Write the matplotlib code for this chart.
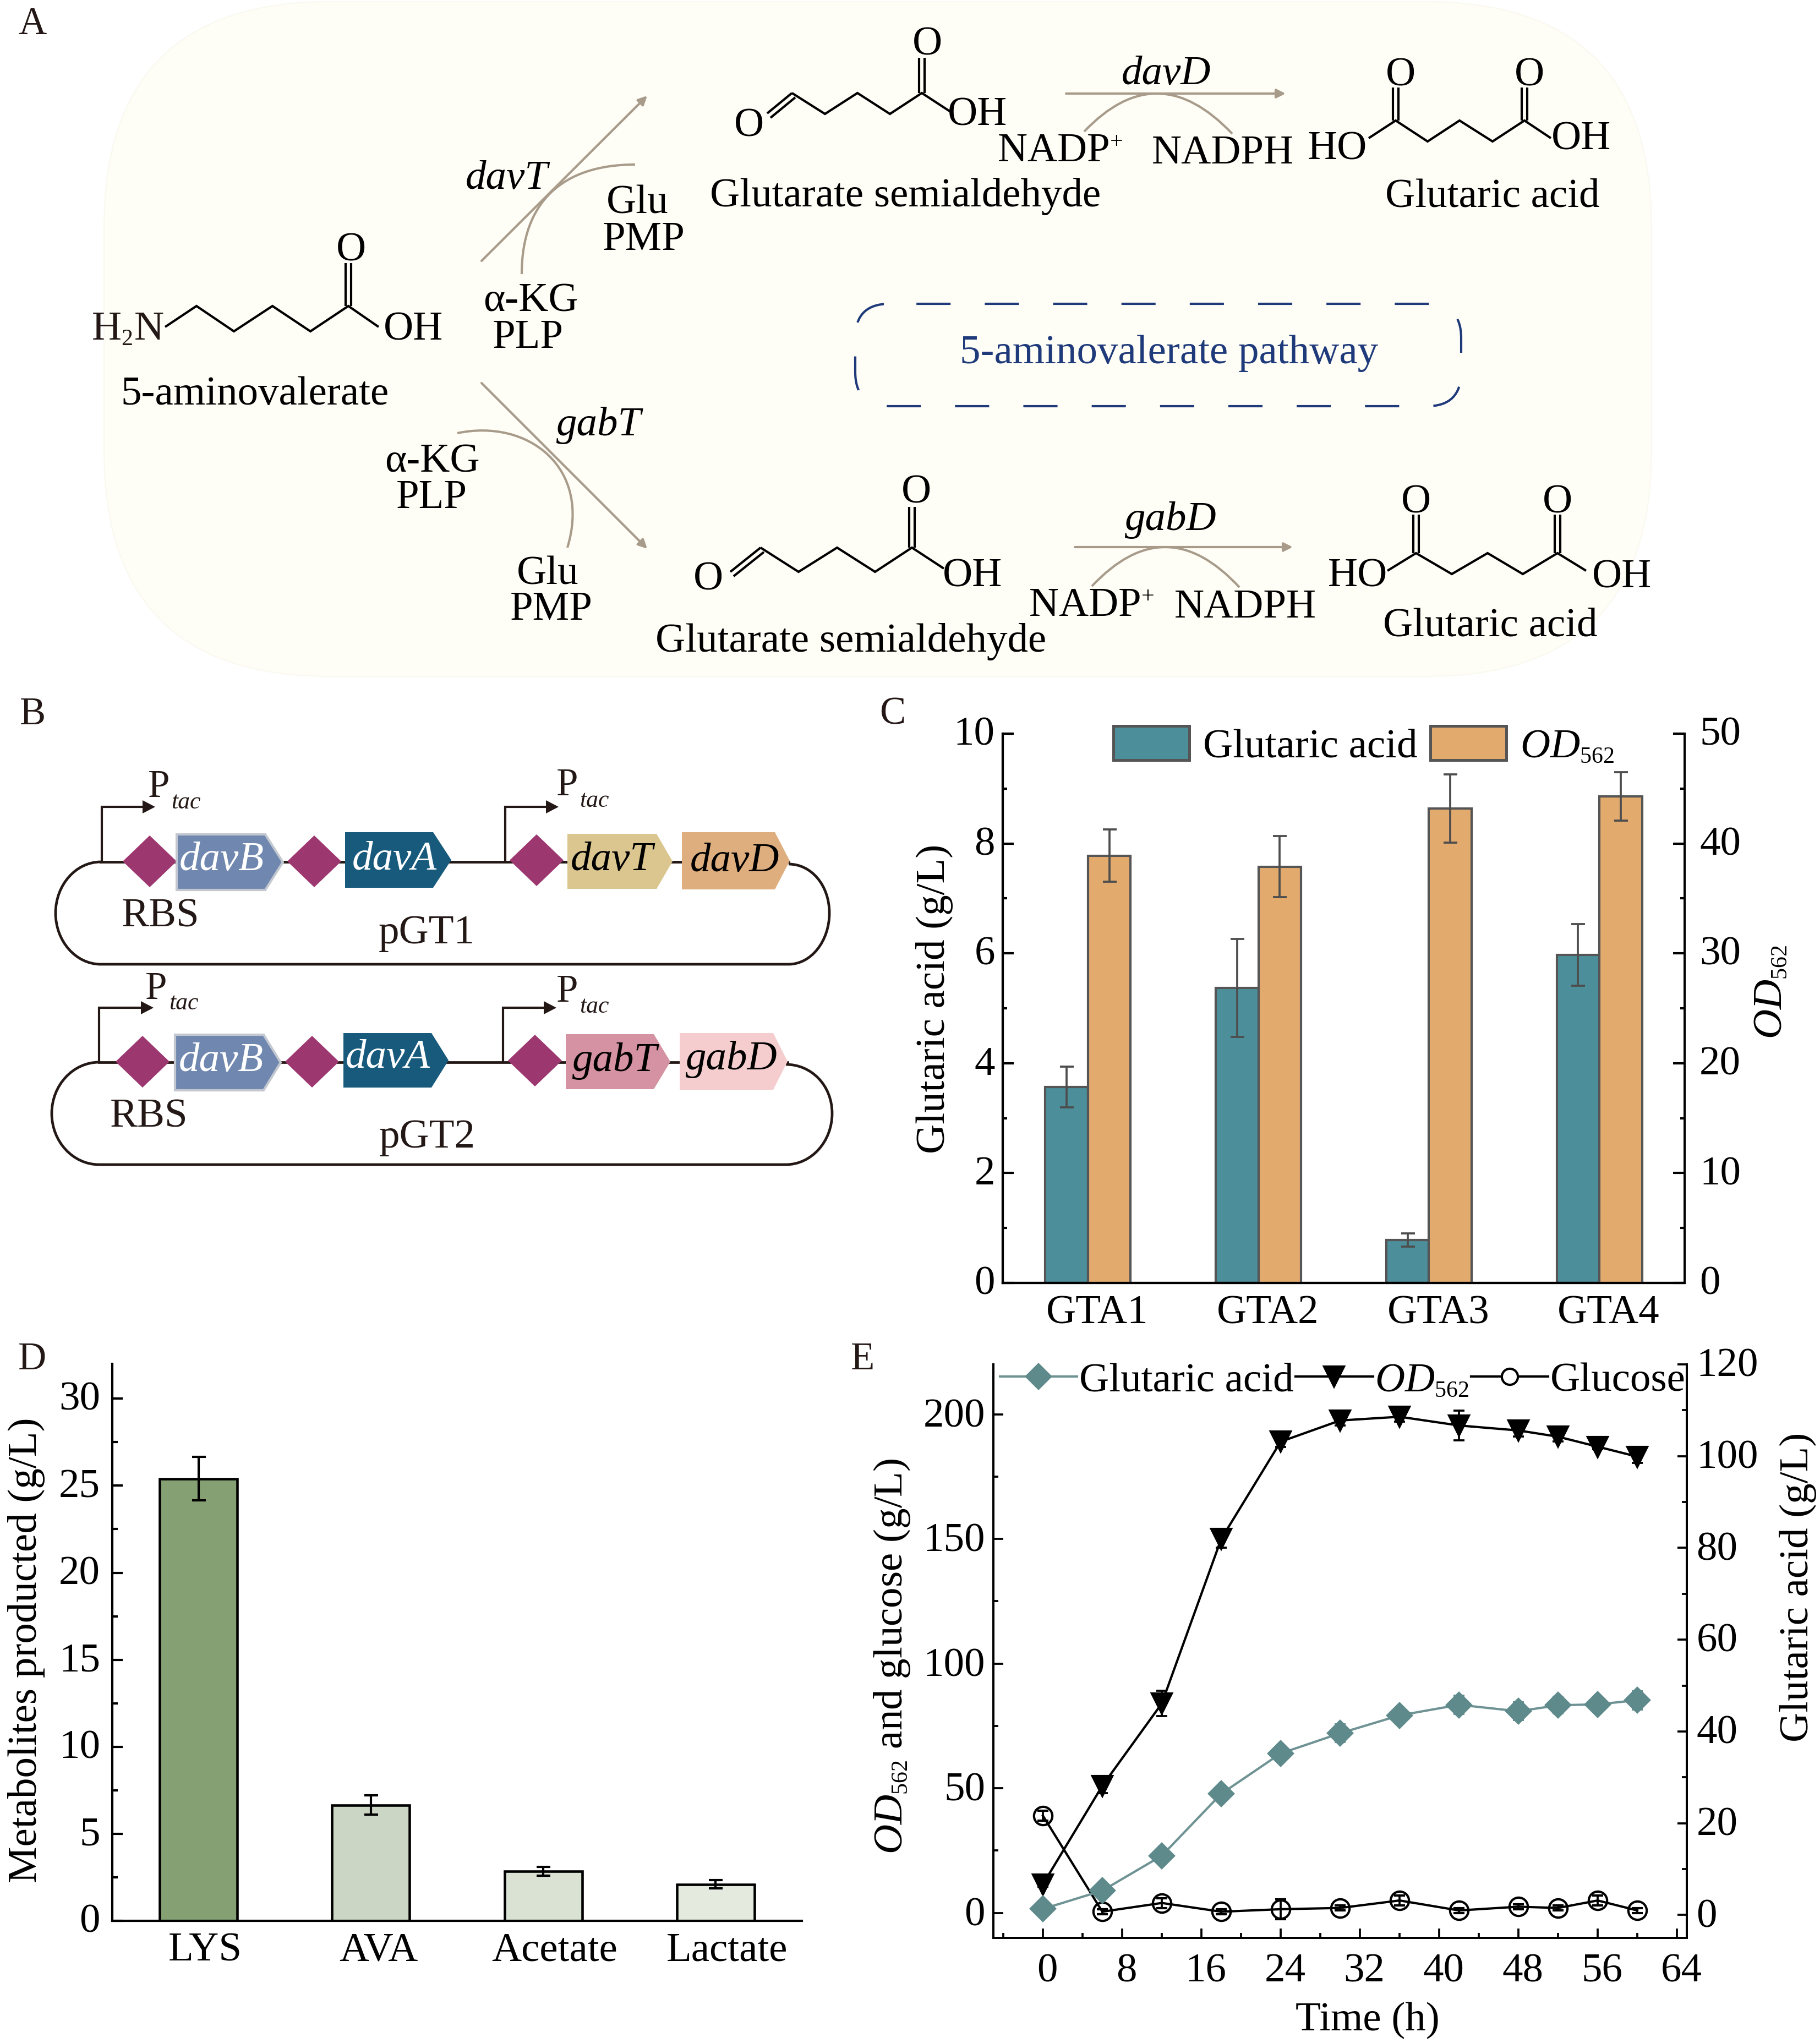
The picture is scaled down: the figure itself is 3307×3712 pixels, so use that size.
import matplotlib
matplotlib.use("Agg")
import matplotlib.pyplot as plt
import matplotlib._mathtext as _mt
from matplotlib.patches import FancyBboxPatch, Polygon, PathPatch, Patch
from matplotlib.path import Path
from matplotlib.lines import Line2D
from matplotlib.ticker import MultipleLocator
from matplotlib.transforms import ScaledTranslation

plt.rcParams['font.family'] = ['Liberation Serif', 'DejaVu Serif']
plt.rcParams['mathtext.fontset'] = 'custom'
plt.rcParams['mathtext.rm'] = 'Liberation Serif'
plt.rcParams['mathtext.it'] = 'Liberation Serif:italic'
plt.rcParams['mathtext.bf'] = 'Liberation Serif:bold'
_mt.SHRINK_FACTOR = 0.56

# ---------------- data ----------------
strains = ['GTA1', 'GTA2', 'GTA3', 'GTA4']
c_glutaric = [3.57, 5.37, 0.78, 5.97]
c_glutaric_err = [0.37, 0.89, 0.12, 0.56]
c_od = [38.9, 37.9, 43.2, 44.3]
c_od_err = [2.4, 2.8, 3.1, 2.2]

metabolites = ['LYS', 'AVA', 'Acetate', 'Lactate']
d_values = [25.4, 6.65, 2.85, 2.1]
d_err = [1.25, 0.55, 0.25, 0.25]
d_colors = ['#85A073', '#CBD6C4', '#D9E2D3', '#E4EADE']

time_h = [0, 6, 12, 18, 24, 30, 36, 42, 48, 52, 56, 60]
e_glutaric = [1.3, 5.3, 12.9, 26.4, 35.2, 39.6, 43.5, 45.8, 44.4, 45.7, 45.9, 46.8]
e_glutaric_err = [0.3, 0.6, 0.8, 1.5, 1.5, 1.9, 1.2, 2.0, 1.9, 1.8, 1.3, 2.0]
e_od = [11.5, 51, 84, 150, 189, 197.5, 199, 195.5, 193.5, 191, 187, 183]
e_od_err = [1, 3, 5, 3.5, 2, 2, 2, 6, 2.5, 2, 1, 2.5]
e_glucose = [39, 0.5, 4, 0.5, 1.5, 2, 5, 1, 2.5, 2, 5, 1]
e_glucose_err = [2, 1, 2, 1, 4, 1, 2, 1, 1, 1, 2, 1]

W, H = 3307, 3712
DPI = 300
FS = 18
fig = plt.figure(figsize=(W / DPI, H / DPI), dpi=DPI, facecolor='white')

ov = fig.add_axes([0, 0, 1, 1], zorder=0)
ov.set_xlim(0, W)
ov.set_ylim(H, 0)
ov.axis('off')

BR = '#A89B8A'
INK = '#231815'
NAVY = '#1F3A7A'


def T(x, y, s, ha='center', size=FS, style='normal', color='black', **kw):
    return ov.text(x, y, s, ha=ha, va='baseline', fontsize=size, fontstyle=style,
                   color=color, **kw)


def poly(pts, lw=1.0, color='black'):
    ov.plot([p[0] for p in pts], [p[1] for p in pts], color=color, lw=lw,
            solid_joinstyle='miter', solid_capstyle='butt')


def dbl(x, y0, y1, d=5, lw=1.0):
    ov.plot([x - d, x - d], [y0, y1], color='black', lw=lw, solid_capstyle='butt')
    ov.plot([x + d, x + d], [y0, y1], color='black', lw=lw, solid_capstyle='butt')


def arrow(p0, p1):
    ov.annotate('', xy=p1, xytext=p0,
                arrowprops=dict(arrowstyle='-|>', color=BR, lw=1.0, shrinkA=0, shrinkB=0,
                                mutation_scale=8))


def curve(verts, codes_kind, color=BR, lw=1.0):
    code = Path.CURVE4 if codes_kind == 4 else Path.CURVE3
    codes = [Path.MOVETO] + [code] * (len(verts) - 1)
    ov.add_patch(PathPatch(Path(verts, codes), fc='none', ec=color, lw=lw))


# ---------------- panel A ----------------
ov.add_patch(FancyBboxPatch((189, 3), 3001 - 189, 1229 - 3,
                            boxstyle='round,pad=0,rounding_size=410',
                            fc='#FEFDF6', ec='#FAF9F0', lw=0.5))
T(33, 62, 'A', ha='left', size=17, color=INK)

T(166, 618, 'H$_2$N', ha='left', color=INK)
poly([(300, 594), (357, 556), (425, 602), (495, 556), (564, 602), (633, 556), (688, 594)])
dbl(633, 556, 478)
T(638, 474, 'O')
T(751, 618, 'OH')
T(463, 735, '5-aminovalerate')

arrow((875, 474), (1176, 174))
curve([(948, 498), (948, 369), (1020, 299), (1154, 299)], 4)
T(921, 343, 'davT', style='italic')
T(1158, 388, 'Glu')
T(1170, 454, 'PMP')
T(964, 566, 'α-KG')
T(959, 632, 'PLP')

arrow((875, 696), (1176, 997))
curve([(831, 787), (960, 760), (1075, 850), (1031, 995)], 4)
T(1088, 791, 'gabT', style='italic')
T(785, 857, 'α-KG')
T(784, 923, 'PLP')
T(995, 1061, 'Glu')
T(1002, 1126, 'PMP')

# upper semialdehyde
poly([(1439, 169), (1499, 207), (1558, 169), (1617, 207), (1675, 169), (1727, 203)])
poly([(1394, 206), (1439, 169)])
poly([(1400, 214), (1445, 177)])
dbl(1675, 169, 105)
T(1361, 248, 'O')
T(1685, 99, 'O')
T(1776, 227, 'OH')
T(1645, 375, 'Glutarate semialdehyde')
T(2119, 153, 'davD', style='italic')
arrow((1937, 170), (2336, 170))
curve([(1970, 239), (2103, 99), (2239, 243)], 3)
T(1812, 293, 'NADP$^{+}$', ha='left')
T(2222, 297, 'NADPH')
T(2430, 289, 'HO')
poly([(2487, 251), (2536, 219), (2594, 257), (2652, 219), (2712, 257), (2770, 219), (2818, 251)])
dbl(2536, 219, 159)
dbl(2770, 219, 159)
T(2545, 155, 'O')
T(2779, 155, 'O')
T(2873, 271, 'OH')
T(2712, 375, 'Glutaric acid')

# pathway box
ov.add_patch(FancyBboxPatch((1554, 552), 2655 - 1554, 738 - 552,
                            boxstyle='round,pad=0,rounding_size=62', fc='none', ec=NAVY,
                            lw=1.0, linestyle=(18, (14.9, 14.9))))
T(2124, 660, '5-aminovalerate pathway', color=NAVY)

# lower semialdehyde
poly([(1382, 995), (1451, 1039), (1521, 995), (1590, 1039), (1657, 995), (1715, 1033)])
poly([(1327, 1039), (1382, 995)])
poly([(1333, 1047), (1388, 1003)])
dbl(1657, 995, 921)
T(1287, 1072, 'O')
T(1665, 913, 'O')
T(1767, 1065, 'OH')
T(1546, 1184, 'Glutarate semialdehyde')
T(2127, 963, 'gabD', style='italic')
arrow((1953, 994), (2349, 994))
curve([(1984, 1065), (2118, 922), (2252, 1067)], 3)
T(1869, 1119, 'NADP$^{+}$', ha='left')
T(2263, 1122, 'NADPH')
T(2467, 1065, 'HO')
poly([(2521, 1037), (2573, 1005), (2638, 1043), (2703, 1005), (2767, 1043), (2830, 1005), (2882, 1037)])
dbl(2573, 1005, 935)
dbl(2830, 1005, 935)
T(2573, 931, 'O')
T(2830, 931, 'O')
T(2947, 1067, 'OH')
T(2708, 1156, 'Glutaric acid')

# ---------------- panel B ----------------
T(36, 1316, 'B', ha='left', size=17, color=INK)
DIA = '#9D3770'


def plasmid(xl, xr, x0, x1, top, bot, xs):
    yc = (top + bot) / 2
    k = 0.55
    ry = (bot - top) / 2
    verts = [(xs, top), (x0, top),
             (x0 - k * (x0 - xl), top), (xl, yc - k * ry), (xl, yc),
             (xl, yc + k * ry), (x0 - k * (x0 - xl), bot), (x0, bot),
             (x1, bot),
             (x1 + k * (xr - x1), bot), (xr, yc + k * ry), (xr, yc),
             (xr, yc - k * ry), (x1 + k * (xr - x1), top + 4), (x1, top + 4)]
    codes = [Path.MOVETO, Path.LINETO] + [Path.CURVE4] * 6 + [Path.LINETO] + [Path.CURVE4] * 6
    ov.add_patch(PathPatch(Path(verts, codes), fc='none', ec=INK, lw=1.15, zorder=2))


def promoter(x, y0, y1, tip, px, pb, tx, tb):
    ov.plot([x, x, tip - 20], [y0, y1, y1], color=INK, lw=1.0, zorder=2,
            solid_joinstyle='miter')
    ov.add_patch(Polygon([(tip - 23, y1 - 12), (tip, y1), (tip - 23, y1 + 12)], fc=INK, ec='none',
                         zorder=2))
    T(px, pb, 'P', size=17, color=INK)
    T(tx, tb, 'tac', ha='left', size=10.5, style='italic', color=INK)


def diamond(x, y):
    ov.add_patch(Polygon([(x - 49, y), (x, y - 47), (x + 49, y), (x, y + 47)], fc=DIA, ec='none',
                         zorder=3))


def gene(x0, x1, tip, y0, y1, fc, label, tx, tb, color='black', ec=None):
    ov.add_patch(Polygon([(x0, y0), (tip, y0), (x1, (y0 + y1) / 2), (tip, y1), (x0, y1)],
                         fc=fc, ec=ec if ec else 'none', lw=1.0 if ec else 0, zorder=3))
    T(tx, tb, label, style='italic', color=color, zorder=4)


plasmid(101, 1507, 183, 1433, 1566, 1752, 183)
ov.plot([183, 1433], [1566, 1566], color=INK, lw=1.15, zorder=2)
promoter(185, 1566, 1466, 282, 289, 1448, 311, 1469)
promoter(918, 1566, 1466, 1015, 1031, 1445, 1053, 1466)
diamond(272, 1565)
diamond(571, 1565)
diamond(975, 1563)
gene(321, 514, 482, 1516, 1617, '#7088AF', 'davB', 403, 1581, 'white', '#C3C8D0')
gene(627, 820, 787, 1512, 1613, '#175A7C', 'davA', 717, 1580, 'white')
gene(1031, 1222, 1193, 1515, 1615, '#DAC68E', 'davT', 1112, 1581)
gene(1239, 1435, 1408, 1512, 1616, '#DFAE7E', 'davD', 1335, 1583)
T(292, 1683, 'RBS', color=INK)
T(775, 1714, 'pGT1', color=INK)

plasmid(94, 1512, 180, 1428, 1930, 2116, 180)
ov.plot([180, 1431], [1930, 1930], color=INK, lw=1.15, zorder=2)
promoter(180, 1930, 1831, 279, 284, 1815, 307, 1834)
promoter(914, 1930, 1831, 1011, 1031, 1820, 1053, 1840)
diamond(259, 1929)
diamond(567, 1929)
diamond(972, 1927)
gene(318, 510, 479, 1880, 1981, '#7088AF', 'davB', 402, 1946, 'white', '#C3C8D0')
gene(624, 815, 784, 1877, 1976, '#175A7C', 'davA', 705, 1940, 'white')
gene(1028, 1218, 1188, 1879, 1979, '#D492A2', 'gabT', 1117, 1946)
gene(1235, 1431, 1405, 1877, 1980, '#F5CDCF', 'gabD', 1329, 1943)
T(271, 2047, 'RBS', color=INK)
T(776, 2085, 'pGT2', color=INK)

T(1598, 1316, 'C', ha='left', size=17, color=INK)
T(33, 2488, 'D', ha='left', size=17, color=INK)
T(1546, 2488, 'E', ha='left', size=17, color=INK)


def box(l, t, r, b):
    ax = fig.add_axes([l / W, 1 - b / H, (r - l) / W, (b - t) / H], zorder=2)
    ax.patch.set_alpha(0)
    return ax


def shift(labels, dx=0, dy=0):
    for lab in labels:
        lab.set_transform(lab.get_transform()
                          + ScaledTranslation(dx / DPI, dy / DPI, fig.dpi_scale_trans))


def place_ylabel(ax, text, x, y):
    ax.set_ylabel(text, fontsize=FS)
    ax.yaxis.set_label_coords(x / W, 1 - y / H, transform=fig.transFigure)
    ax.yaxis.label.set(va='center', ha='center', rotation_mode='default')


# ---------------- panel C ----------------
ax = box(1822, 1333, 3061, 2331)
ax2 = ax.twinx()
ax2.patch.set_alpha(0)
pos = [1, 2, 3, 4]
w = 0.25
EC = '#555555'
ERRC = '#4D4D4D'
ekw = dict(ecolor=ERRC, elinewidth=0.9, capsize=3, capthick=0.9)
ax.bar([p - w / 2 for p in pos], c_glutaric, w, color='#4C8F9B', edgecolor=EC, lw=1.0,
       yerr=c_glutaric_err, error_kw=ekw)
ax2.bar([p + w / 2 for p in pos], c_od, w, color='#E3AA6E', edgecolor=EC, lw=1.0,
        yerr=c_od_err, error_kw=ekw)
ax.set_xlim(0.5, 4.5)
ax.set_ylim(0, 10)
ax2.set_ylim(0, 50)
ax.set_xticks(pos)
ax.set_xticklabels(strains, fontsize=FS)
ax.yaxis.set_major_locator(MultipleLocator(2))
ax.yaxis.set_minor_locator(MultipleLocator(1))
ax2.yaxis.set_major_locator(MultipleLocator(10))
ax2.yaxis.set_minor_locator(MultipleLocator(5))
ax.tick_params(axis='x', length=0, pad=5.3)
ax.tick_params(axis='y', which='major', direction='in', length=4.8, width=1, labelsize=FS, pad=3.4)
ax.tick_params(axis='y', which='minor', direction='in', length=2, width=1)
ax2.tick_params(axis='y', which='major', direction='in', length=5, width=1, labelsize=FS, pad=6.5)
ax2.tick_params(axis='y', which='minor', direction='in', length=2, width=1)
for a in (ax, ax2):
    a.spines['top'].set_visible(False)
    a.spines['left'].set_linewidth(1.0)
    a.spines['right'].set_linewidth(0.9)
    a.spines['bottom'].set_linewidth(1.0)
shift(ax.get_xticklabels(), dx=17)
shift(ax.get_yticklabels(), dy=5)
shift(ax2.get_yticklabels(), dy=5)
place_ylabel(ax, 'Glutaric acid (g/L)', 1698, 1815)
place_ylabel(ax2, r'$\mathit{OD}_{562}$', 3219, 1802)
ax2.legend(handles=[Patch(fc='#4C8F9B', ec=EC, lw=1.2), Patch(fc='#E3AA6E', ec=EC, lw=1.2)],
           labels=['Glutaric acid', r'$\mathit{OD}_{562}$'], ncol=2, frameon=False, fontsize=FS,
           loc='upper left', bbox_to_anchor=(2023 / W, 1 - 1319 / H), bbox_transform=fig.transFigure,
           borderpad=0, borderaxespad=0, handlelength=1.84, handleheight=0.9, handletextpad=0.33,
           columnspacing=0.32)

# ---------------- panel D ----------------
ax = box(204, 2478, 1457, 3490)
xs = list(range(len(metabolites)))
ax.bar(xs, d_values, 0.45, color=d_colors, edgecolor='black', lw=1.1, yerr=d_err,
       error_kw=dict(ecolor='black', elinewidth=1.0, capsize=3, capthick=1.0))
ax.set_xlim(-0.5, 3.5)
ax.set_ylim(0, 32)
ax.set_xticks(xs)
ax.set_xticklabels(metabolites, fontsize=FS)
ax.yaxis.set_major_locator(MultipleLocator(5))
ax.yaxis.set_minor_locator(MultipleLocator(2.5))
ax.tick_params(axis='x', length=0, pad=5.0)
ax.tick_params(axis='y', which='major', direction='in', length=4.6, width=1, labelsize=FS, pad=5.3)
ax.tick_params(axis='y', which='minor', direction='in', length=2.4, width=1)
ax.spines['top'].set_visible(False)
ax.spines['right'].set_visible(False)
ax.spines['left'].set_linewidth(1.0)
ax.spines['bottom'].set_linewidth(1.0)
for lab, dx in zip(ax.get_xticklabels(), (12, 14, 21, 21)):
    shift([lab], dx=dx)
shift(ax.get_yticklabels(), dy=5)
place_ylabel(ax, 'Metabolites producted (g/L)', 48, 2998)

# ---------------- panel E ----------------
ax = box(1805, 2479, 3065, 3521)
axr = ax.twinx()
axr.patch.set_alpha(0)
ax.set_xlim(-5, 65)
ax.set_ylim(-10, 220)
axr.set_ylim(-5, 120)
GREY = '#5F8A8B'
ek = dict(capsize=2.5, elinewidth=0.9, capthick=0.9)
axr.errorbar(time_h, e_glutaric, yerr=e_glutaric_err, color='#6F9394', ecolor=GREY, marker='D', ms=7.5,
             mfc=GREY, mec=GREY, lw=1.0, **ek)
ax.errorbar(time_h, e_od, yerr=e_od_err, color='black', ecolor='black', marker='v', ms=8.8,
            mfc='black', mec='black', lw=1.0, **ek)
ax.errorbar(time_h, e_glucose, yerr=e_glucose_err, color='black', ecolor='black', marker='o', ms=8,
            mfc='none', mec='black', mew=1.0, lw=1.0, **ek)
ax.xaxis.set_major_locator(MultipleLocator(8))
ax.xaxis.set_minor_locator(MultipleLocator(4))
ax.yaxis.set_major_locator(MultipleLocator(50))
ax.yaxis.set_minor_locator(MultipleLocator(25))
axr.yaxis.set_major_locator(MultipleLocator(20))
axr.yaxis.set_minor_locator(MultipleLocator(10))
ax.tick_params(axis='x', which='major', direction='in', length=4.2, width=0.9, labelsize=FS, pad=6.7)
ax.tick_params(axis='x', which='minor', direction='in', length=2.2, width=0.9)
ax.tick_params(axis='y', which='major', direction='in', length=4.2, width=0.9, labelsize=FS, pad=3.6)
ax.tick_params(axis='y', which='minor', direction='in', length=2.2, width=0.9)
axr.tick_params(axis='y', which='major', direction='in', length=4.2, width=0.9, labelsize=FS, pad=4.2)
axr.tick_params(axis='y', which='minor', direction='in', length=2.2, width=0.9)
for a in (ax, axr):
    a.spines['top'].set_visible(False)
    for s in ('left', 'right', 'bottom'):
        a.spines[s].set_linewidth(0.9)
shift(ax.get_xticklabels(), dx=8)
shift(ax.get_yticklabels(), dy=3)
shift(axr.get_yticklabels(), dy=4)
ax.set_xlabel('Time (h)', fontsize=FS)
ax.xaxis.set_label_coords(2485 / W, 1 - 3689 / H, transform=fig.transFigure)
ax.xaxis.label.set(va='baseline')
place_ylabel(ax, r'$\mathit{OD}_{562}$ and glucose (g/L)', 1621, 3009)
place_ylabel(axr, 'Glutaric acid (g/L)', 3267, 2884)
leg_handles = [
    Line2D([], [], color='#6F9394', lw=1.0, marker='D', ms=7.5, mfc=GREY, mec=GREY),
    Line2D([], [], color='black', lw=1.0, marker='v', ms=8.8, mfc='black', mec='black'),
    Line2D([], [], color='black', lw=1.0, marker='o', ms=7, mfc='white', mec='black'),
]
axr.legend(handles=leg_handles, labels=['Glutaric acid', r'$\mathit{OD}_{562}$', 'Glucose'], ncol=3,
           frameon=False, fontsize=FS, loc='upper left',
           bbox_to_anchor=(1817 / W, 1 - 2475 / H), bbox_transform=fig.transFigure, borderpad=0,
           borderaxespad=0, handlelength=1.87, handletextpad=0.05, columnspacing=0.05)

fig.savefig('out.png', dpi=DPI, facecolor='white')
